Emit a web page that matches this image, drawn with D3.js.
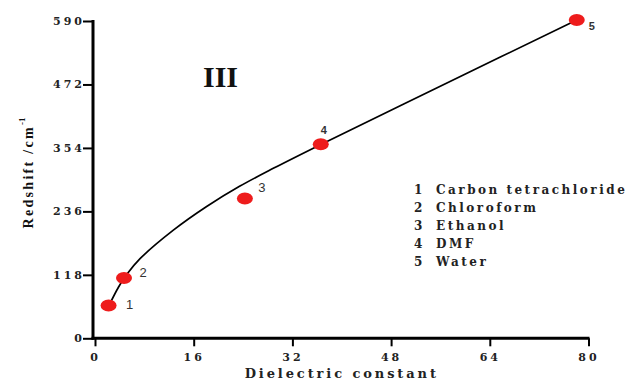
<!DOCTYPE html>
<html>
<head>
<meta charset="utf-8">
<script src="https://cdn.jsdelivr.net/npm/d3@7"></script>
<style>
    html, body { margin: 0; padding: 0; background: #fff; }
    svg { display: block; }
    .tick text { font-family: "DejaVu Serif", serif; font-weight: bold; font-size: 11px; letter-spacing: 3px; fill: #222; }
</style>
</head>
<body>
<div id="chart"></div>
<script>
// solvents: dielectric constant vs red shift
const solventIds = ['1', '2', '3', '4', '5'];
const solventNames = ['Carbon tetrachloride', 'Chloroform', 'Ethanol', 'DMF', 'Water'];
const dielectric = [2.2, 4.7, 24.3, 36.6, 78.1];
const redShift = [61, 112, 260, 361, 592];

// fitted curve
const fitX = [2.4, 3.8, 5.1, 7.3, 12.7, 18.1, 23.5, 28.9, 36.7, 57.3, 78.1];
const fitY = [64, 95, 118, 148, 201, 245, 283, 316, 361, 476, 592];

const xTicks = [0, 16, 32, 48, 64, 80];
const yTicks = [0, 118, 236, 354, 472, 590];

const width = 634, height = 381;

// label offsets from each point (px)
const labelOffset = [[21, 4], [19, -1], [17, -6], [3, -10], [15, 10]];

const svg = d3.select('#chart')
    .append('svg')
    .attr('width', width)
    .attr('height', height);

const x = d3.scaleLinear().domain([0, 80]).range([95, 588.5]);
const y = d3.scaleLinear().domain([0, 590]).range([338.3, 21]);

const axisX = 93;
const axisY = 338.3;

// minor ticks
const xMinor = d3.range(0, 80.01, 3.2).filter(v => xTicks.indexOf(Math.round(v * 10) / 10) < 0);
const yMinor = d3.range(0, 590.01, 23.6).filter(v => yTicks.indexOf(Math.round(v * 10) / 10) < 0);

const gx = svg.append('g').attr('transform', `translate(0,${axisY})`);
gx.call(d3.axisBottom(x).tickValues(xMinor).tickSize(5).tickFormat(''));
gx.call(d3.axisBottom(x).tickValues(xTicks).tickSize(8).tickPadding(7));
gx.selectAll('.domain').remove();
gx.selectAll('.tick line').attr('stroke', '#000').attr('stroke-width', 2);

const gy = svg.append('g').attr('transform', `translate(${axisX},0)`);
gy.call(d3.axisLeft(y).tickValues(yMinor).tickSize(5).tickFormat(''));
gy.call(d3.axisLeft(y).tickValues(yTicks).tickSize(10));
gy.selectAll('.domain').remove();
gy.selectAll('.tick line').attr('stroke', '#000').attr('stroke-width', 2);
gy.selectAll('.tick text').attr('x', -8);

// axis lines
svg.append('line')
    .attr('x1', axisX - 1.5).attr('x2', x(80) + 1)
    .attr('y1', axisY).attr('y2', axisY)
    .attr('stroke', '#000').attr('stroke-width', 3);
svg.append('line')
    .attr('x1', axisX).attr('x2', axisX)
    .attr('y1', y(590) - 1).attr('y2', axisY + 1.5)
    .attr('stroke', '#000').attr('stroke-width', 3);

// axis titles
svg.append('text')
    .attr('x', (x(0) + x(80)) / 2)
    .attr('y', 378)
    .attr('text-anchor', 'middle')
    .attr('font-family', '"DejaVu Serif", serif')
    .attr('font-weight', 'bold')
    .attr('font-size', '13px')
    .attr('letter-spacing', '2.9px')
    .attr('fill', '#222')
    .text('Dielectric constant');

const yTitle = svg.append('text')
    .attr('transform', 'translate(33,173) rotate(-90)')
    .attr('text-anchor', 'middle')
    .attr('font-family', '"Liberation Serif", serif')
    .attr('font-weight', 'bold')
    .attr('font-size', '14px')
    .attr('letter-spacing', '2.3px')
    .attr('fill', '#111');
yTitle.append('tspan').text('Redshift /cm');
yTitle.append('tspan').attr('dy', -8).attr('font-size', '9px').attr('letter-spacing', '0px').text('-1');

// panel mark
svg.append('text')
    .attr('x', 203)
    .attr('y', 87)
    .attr('font-family', '"Liberation Serif", serif')
    .attr('font-weight', 'bold')
    .attr('font-size', '30px')
    .attr('fill', '#111')
    .text('III');

// fit curve
const fitData = fitX.map((v, i) => [v, fitY[i]]);
const line = d3.line()
    .x(d => x(d[0]))
    .y(d => y(d[1]))
    .curve(d3.curveCatmullRom);

svg.append('path')
    .datum(fitData)
    .attr('d', line)
    .attr('fill', 'none')
    .attr('stroke', '#000')
    .attr('stroke-width', 1.7);

// points
const points = dielectric.map((v, i) => ({ x: v, y: redShift[i], id: solventIds[i] }));

svg.append('g')
    .selectAll('ellipse')
    .data(points)
    .join('ellipse')
    .attr('cx', d => x(d.x))
    .attr('cy', d => y(d.y))
    .attr('rx', 8)
    .attr('ry', 6)
    .attr('fill', '#ee1c1c');

svg.append('g')
    .selectAll('text')
    .data(points)
    .join('text')
    .attr('x', (d, i) => x(d.x) + labelOffset[i][0])
    .attr('y', (d, i) => y(d.y) + labelOffset[i][1])
    .attr('text-anchor', 'middle')
    .attr('font-family', '"Liberation Sans", Arial, sans-serif')
    .attr('font-size', (d, i) => i > 2 ? '11px' : '13px')
    .attr('font-weight', (d, i) => i > 2 ? 'bold' : 'normal')
    .attr('fill', '#333')
    .text(d => d.id);

// legend
const legend = svg.append('g')
    .attr('font-family', '"DejaVu Serif", serif')
    .attr('font-weight', 'bold')
    .attr('font-size', '12px')
    .attr('letter-spacing', '2.5px')
    .attr('fill', '#222');

solventNames.forEach((name, i) => {
    legend.append('text').attr('x', 414).attr('y', 194 + i * 18).text(solventIds[i]);
    legend.append('text').attr('x', 436).attr('y', 194 + i * 18).text(name);
});
</script>
</body>
</html>
